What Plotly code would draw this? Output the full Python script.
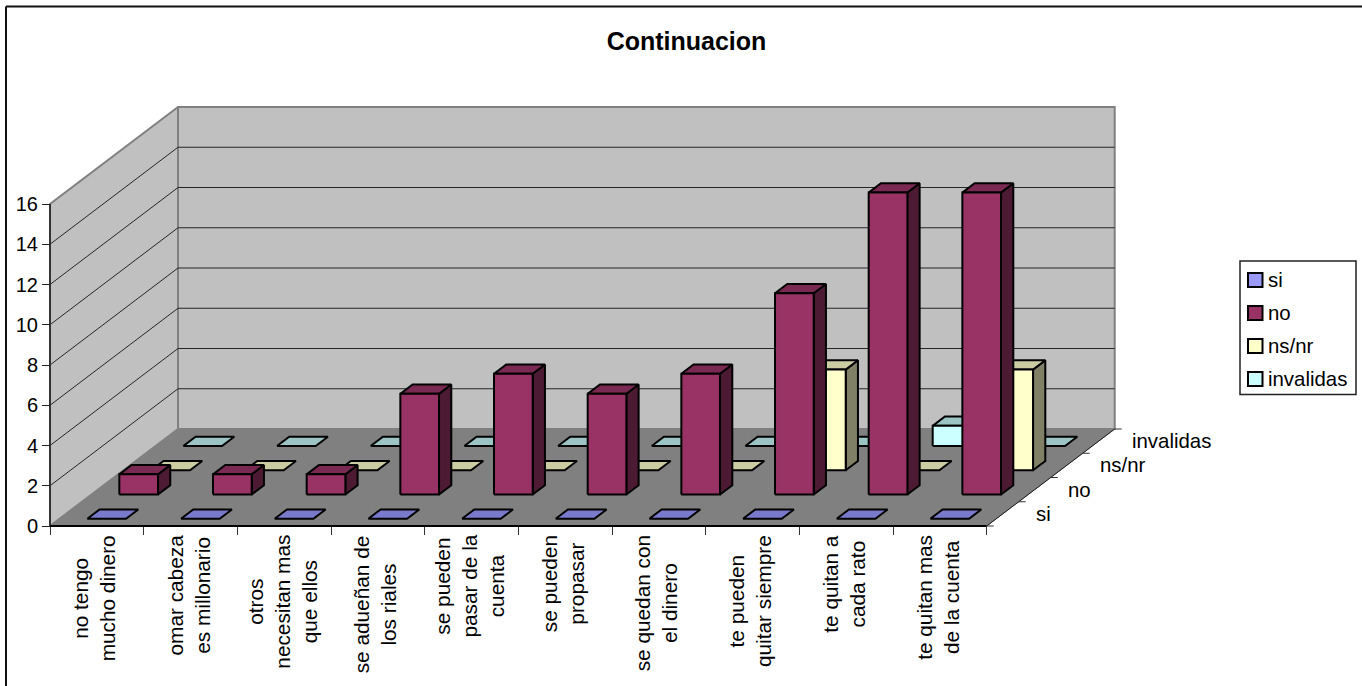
import plotly.graph_objects as go

# Survey answers per statement
categories = [
    "no tengo<br>mucho dinero",
    "omar cabeza<br>es millonario",
    "otros<br>necesitan mas<br>que ellos",
    "se adueñan de<br>los riales",
    "se pueden<br>pasar de la<br>cuenta",
    "se pueden<br>propasar",
    "se quedan con<br>el dinero",
    "te pueden<br>quitar siempre",
    "te quitan a<br>cada rato",
    "te quitan mas<br>de la cuenta",
]
series_names = ["si", "no", "ns/nr", "invalidas"]
si = [0, 0, 0, 0, 0, 0, 0, 0, 0, 0]
no = [1, 1, 1, 5, 6, 5, 6, 10, 15, 15]
ns_nr = [0, 0, 0, 0, 0, 0, 0, 5, 0, 5]
invalidas = [0, 0, 0, 0, 0, 0, 0, 0, 1, 0]
series_values = [si, no, ns_nr, invalidas]
value_ticks = list(range(0, 17, 2))

# (front, top, side) fill per series; front doubles as the legend swatch
FACE_COLORS = [
    ("#9999FF", "#7A7ACC", "#4D4D80"),
    ("#993366", "#7A2952", "#4D1A33"),
    ("#FFFFCC", "#CCCCA3", "#808066"),
    ("#CCFFFF", "#9CC4C4", "#668080"),
]

W, H = 1362, 686
FONT = "Liberation Sans, Arial, sans-serif"
X0, X1 = 50.0, 986.7      # front edge of the floor, px
Y0, Y16 = 526.0, 204.0    # value 0 and 16 on the front edge, px
N_CAT, N_SER = len(categories), len(series_names)

unit_x = (X1 - X0) / N_CAT
unit_y = (Y0 - Y16) / 16
DEPTH_X = 32.0 / unit_x   # one series step along the receding axis, in x units
DEPTH_Y = 24.25 / unit_y  # the same step in y units

BAR_L, BAR_R = 0.296, 0.709
BAR_NEAR, BAR_FAR = 0.30, 0.683


def project(cat, value, depth):
    """Oblique projection of (category, value, depth) onto the 2D axes."""
    return cat + depth * DEPTH_X, value + depth * DEPTH_Y


def polygon(corners):
    xs, ys = zip(*[project(*c) for c in corners])
    return list(xs) + [xs[0]], list(ys) + [ys[0]]


def px(x):
    return x / W


def py(y):
    return 1 - y / H


def add_faces(fig, polys, fill, line_color, line_width):
    xs, ys = [], []
    for px_, py_ in polys:
        xs += px_ + [None]
        ys += py_ + [None]
    fig.add_trace(go.Scatter(
        x=xs, y=ys, mode="lines", fill="toself", fillcolor=fill,
        line=dict(color=line_color, width=line_width),
        hoverinfo="skip", showlegend=False,
    ))


def add_lines(fig, segments, color, width):
    xs, ys = [], []
    for seg in segments:
        for c in seg:
            x, y = project(*c)
            xs.append(x)
            ys.append(y)
        xs.append(None)
        ys.append(None)
    fig.add_trace(go.Scatter(
        x=xs, y=ys, mode="lines", line=dict(color=color, width=width),
        hoverinfo="skip", showlegend=False,
    ))


fig = go.Figure()

# Walls and floor
add_faces(fig, [polygon([(0, 0, 0), (0, 16, 0), (0, 16, N_SER), (0, 0, N_SER)])], "#C0C0C0", "#808080", 2)
add_faces(fig, [polygon([(0, 0, N_SER), (0, 16, N_SER), (N_CAT, 16, N_SER), (N_CAT, 0, N_SER)])], "#C0C0C0", "#808080", 2)
add_faces(fig, [polygon([(0, 0, 0), (N_CAT, 0, 0), (N_CAT, 0, N_SER), (0, 0, N_SER)])], "#808080", "#808080", 1)

# Gridlines across both walls
add_lines(fig, [[(0, v, 0), (0, v, N_SER), (N_CAT, v, N_SER)] for v in value_ticks[1:-1]], "#262626", 1)

# Base lines of the value and category axes
add_lines(fig, [[(0, 0, 0), (0, 16, 0)]], "#333333", 2)
add_lines(fig, [[(0, 0, 0), (N_CAT, 0, 0)]], "#000000", 2)

# Receding axis along the right floor edge, with its ticks
add_lines(fig, [[(N_CAT, 0, 0), (N_CAT, 0, N_SER)]], "#1a1a1a", 1)
tick_run = 7.0 / unit_x
add_lines(fig, [[(N_CAT, 0, d), (N_CAT + tick_run, 0, d)] for d in range(N_SER + 1)], "#333333", 1)

# Bars, painted from the back row to the front
for s in reversed(range(N_SER)):
    fronts, tops, sides = [], [], []
    for c, v in enumerate(series_values[s]):
        l, r = c + BAR_L, c + BAR_R
        near, far = s + BAR_NEAR, s + BAR_FAR
        tops.append(polygon([(l, v, near), (r, v, near), (r, v, far), (l, v, far)]))
        if v > 0:
            fronts.append(polygon([(l, 0, near), (r, 0, near), (r, v, near), (l, v, near)]))
            sides.append(polygon([(r, 0, near), (r, 0, far), (r, v, far), (r, v, near)]))
    front_c, top_c, side_c = FACE_COLORS[s]
    if sides:
        add_faces(fig, sides, side_c, "#000000", 2)
    add_faces(fig, tops, top_c, "#000000", 2)
    if fronts:
        add_faces(fig, fronts, front_c, "#000000", 2)

annotations = []

# Category labels, rotated, hanging from the front edge
for i, label in enumerate(categories):
    annotations.append(dict(
        x=i + 0.5, xref="x", xshift=-2.5, y=py(533), yref="paper", text=label, textangle=-90,
        xanchor="center", yanchor="top", align="center", showarrow=False,
        font=dict(family=FONT, size=20.8, color="#000000"),
    ))

# Series labels along the receding axis
label_run = 31.0 / unit_x
for s, name in enumerate(series_names):
    x, y = project(N_CAT + label_run, 0, s + 0.5)
    annotations.append(dict(
        x=x, xref="x", y=y, yref="y", text=name, xanchor="left", yanchor="middle",
        showarrow=False, font=dict(family=FONT, size=20.4, color="#000000"),
    ))

shapes = [
    # Chart area frame (top and left edges)
    dict(type="line", xref="paper", yref="paper", x0=px(6), x1=px(6), y0=py(6.5), y1=py(H),
         line=dict(color="#111111", width=2)),
    dict(type="line", xref="paper", yref="paper", x0=px(6), x1=px(W), y0=py(6.5), y1=py(6.5),
         line=dict(color="#111111", width=2)),
    # Legend frame
    dict(type="rect", xref="paper", yref="paper", x0=px(1240), x1=px(1356), y0=py(261), y1=py(394.5),
         line=dict(color="#222222", width=1.5), fillcolor="#FFFFFF"),
]

# Legend entries
legend_rows = [280, 313, 346, 379]
for s, name in enumerate(series_names):
    cy = legend_rows[s]
    shapes.append(dict(
        type="rect", xref="paper", yref="paper",
        x0=px(1248), x1=px(1262.5), y0=py(cy - 7), y1=py(cy + 7),
        fillcolor=FACE_COLORS[s][0], line=dict(color="#000000", width=2),
    ))
    annotations.append(dict(
        x=px(1266), xref="paper", y=py(cy), yref="paper", text=name,
        xanchor="left", yanchor="middle", showarrow=False,
        font=dict(family=FONT, size=20.4, color="#000000"),
    ))

# Both axes span the whole page so the receding geometry stays inside the plot area;
# their ticks are pinned to the front edge of the floor.
fig.update_layout(
    template="none",
    width=W, height=H, autosize=False,
    margin=dict(l=0, r=0, t=0, b=0, pad=0, autoexpand=False),
    paper_bgcolor="#FFFFFF", plot_bgcolor="rgba(0,0,0,0)",
    showlegend=False, hovermode=False,
    title=dict(text="<b>Continuacion</b>", x=px(686.5), y=py(41), xanchor="center", yanchor="middle",
               font=dict(family=FONT, size=25, color="#000000")),
    xaxis=dict(
        domain=[0, 1], range=[-X0 / unit_x, (W - X0) / unit_x],
        anchor="free", position=py(Y0), automargin=False,
        tickmode="array", tickvals=list(range(N_CAT + 1)), ticktext=[""] * (N_CAT + 1),
        ticks="outside", ticklen=8, tickwidth=1, tickcolor="#333333",
        showgrid=False, zeroline=False, showline=False, fixedrange=True,
    ),
    yaxis=dict(
        domain=[0, 1], range=[(Y0 - H) / unit_y, Y0 / unit_y],
        anchor="free", position=px(X0), automargin=False,
        tickmode="array", tickvals=value_ticks,
        ticks="outside", ticklen=8, tickwidth=1, tickcolor="#222222",
        tickfont=dict(family=FONT, size=20, color="#000000"),
        showgrid=False, zeroline=False, showline=False, fixedrange=True,
    ),
    shapes=shapes,
    annotations=annotations,
)

fig.write_html("out.html", config=dict(displayModeBar=False))
